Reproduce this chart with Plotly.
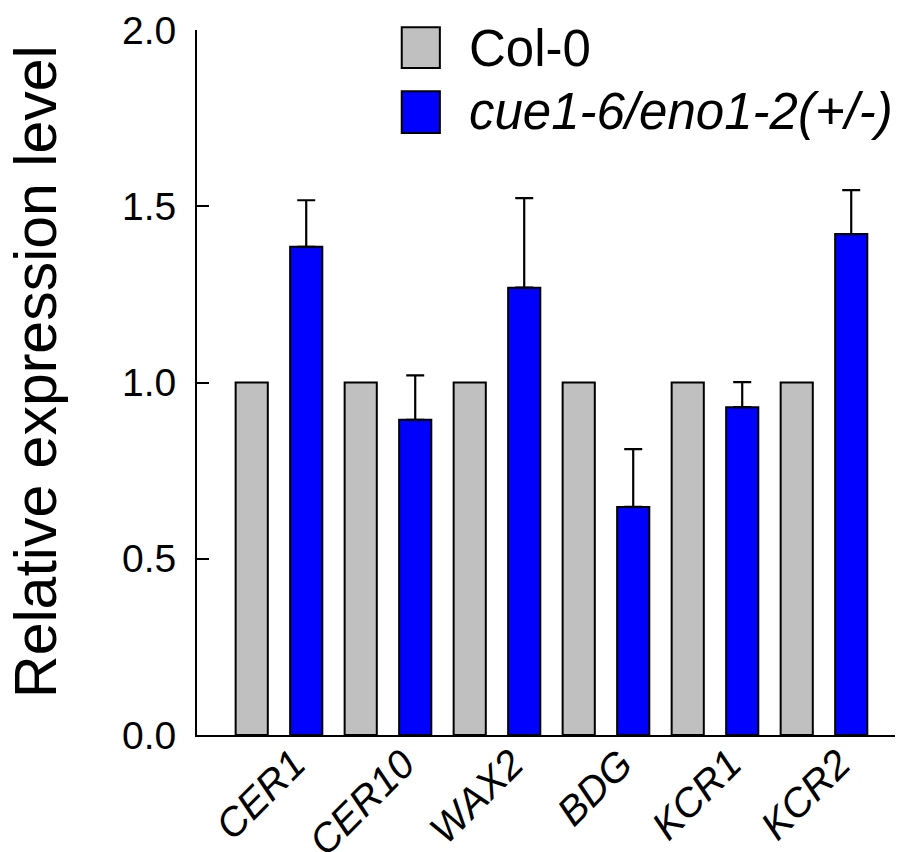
import plotly.graph_objects as go

genes = ["CER1", "CER10", "WAX2", "BDG", "KCR1", "KCR2"]
col0 = [1.0, 1.0, 1.0, 1.0, 1.0, 1.0]
mutant = [1.385, 0.894, 1.269, 0.647, 0.930, 1.421]
mutant_err = [0.132, 0.126, 0.254, 0.164, 0.071, 0.125]
yticks = [0.0, 0.5, 1.0, 1.5, 2.0]
ytick_text = ["0.0", "0.5", "1.0", "1.5", "2.0"]

FONT = "Liberation Sans, Arial, sans-serif"
GRAY = "#C0C0C0"
BLUE = "#0000FF"

fig = go.Figure()
fig.add_trace(go.Bar(
    x=genes, y=col0, name="Col-0",
    marker=dict(color=GRAY, line=dict(color="black", width=2)),
    showlegend=False,
))
fig.add_trace(go.Bar(
    x=genes, y=mutant, name="cue1-6/eno1-2(+/-)",
    marker=dict(color=BLUE, line=dict(color="black", width=2)),
    error_y=dict(type="data", symmetric=False, array=mutant_err,
                 arrayminus=[0] * len(mutant_err),
                 color="black", thickness=2.2, width=9),
    showlegend=False,
))

# page has an 8px body margin, so the figure is sized to fill the window
fig.update_layout(
    width=895, height=844,
    margin=dict(l=189, r=0, t=22, b=117),
    paper_bgcolor="white", plot_bgcolor="white",
    barmode="group", bargap=0.0, bargroupgap=0.41,
    font=dict(family=FONT, color="black"),
    xaxis=dict(
        range=[-0.752, 5.725], showline=True, linecolor="black", linewidth=2,
        ticks="", showgrid=False, zeroline=False, showticklabels=False,
        automargin=False, tickvals=genes,
    ),
    yaxis=dict(
        range=[0, 2.0], showline=True, linecolor="black", linewidth=2,
        ticks="inside", ticklen=12, tickwidth=2, tickcolor="black",
        showgrid=False, zeroline=False, automargin=False,
        tickvals=yticks, ticktext=ytick_text,
        tickfont=dict(size=39, family=FONT),
        ticklabelstandoff=11,
    ),
)

# rotated italic category labels placed on the x axis scale
for g in genes:
    fig.add_annotation(xref="x", yref="paper", x=g, y=0,
                       text=f"<i>{g}</i>", textangle=-45, showarrow=False,
                       xanchor="right", yanchor="top", xshift=38, yshift=-3,
                       font=dict(size=40, family=FONT, color="black"))

fig.add_annotation(xref="paper", yref="paper", x=-0.228, y=0.515,
                   text="Relative expression level", textangle=-90,
                   showarrow=False, xanchor="center", yanchor="middle",
                   font=dict(size=59, family=FONT, color="black"))

# Legend drawn manually to match large swatches
legend_items = [
    ("Col-0", GRAY, 0.946, 1.004, 0.974),
    ("<i>cue1-6/eno1-2(+/-)</i>", BLUE, 0.854, 0.913, 0.884),
]
for text, color, y0, y1, yc in legend_items:
    fig.add_shape(type="rect", xref="paper", yref="paper",
                  x0=0.290, x1=0.344, y0=y0, y1=y1,
                  fillcolor=color, line=dict(color="black", width=2))
    fig.add_annotation(xref="paper", yref="paper", x=0.383, y=yc,
                       text=text, showarrow=False, xanchor="left",
                       yanchor="middle",
                       font=dict(size=51, family=FONT, color="black"))

fig.write_html("out.html")
